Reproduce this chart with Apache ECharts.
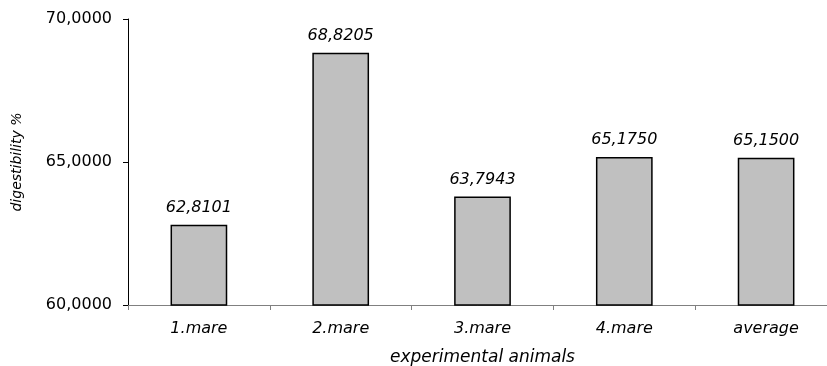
<!DOCTYPE html>
<html>
<head>
<meta charset="utf-8">
<script src="https://cdn.jsdelivr.net/npm/echarts@6/dist/echarts.min.js"></script>
<style>html,body{margin:0;padding:0;background:#fff;}#c{width:827px;height:366px;}</style>
</head>
<body>
<div id="c"></div>
<script>
var categories = ['1.mare', '2.mare', '3.mare', '4.mare', 'average'];
var values = [62.8101, 68.8205, 63.7943, 65.1750, 65.1500];
var yTicks = [60, 65, 70];

var chart = echarts.init(document.getElementById('c'), null, {renderer: 'canvas'});
var fontFam = '"DejaVu Sans", "Liberation Sans", Arial, sans-serif';
function fmt(v) { return v.toFixed(4).replace('.', ','); }
chart.setOption({
  animation: false,
  backgroundColor: '#ffffff',
  grid: {left: 128, right: -10, top: 19, bottom: 61, containLabel: false, outerBoundsMode: 'none'},
  xAxis: {
    type: 'category',
    data: categories,
    name: 'experimental animals',
    nameLocation: 'middle',
    nameGap: 44,
    nameTextStyle: {fontFamily: fontFam, fontSize: 17, fontStyle: 'italic', color: '#000'},
    axisLine: {lineStyle: {color: '#808080', width: 1}},
    axisTick: {show: true, length: 5, lineStyle: {color: '#808080'}},
    axisLabel: {fontFamily: fontFam, fontSize: 16, fontStyle: 'italic', color: '#000', margin: 16}
  },
  yAxis: {
    type: 'value',
    min: yTicks[0],
    max: yTicks[yTicks.length - 1],
    interval: 5,
    name: 'digestibility %',
    nameLocation: 'middle',
    nameGap: 104,
    nameTextStyle: {fontFamily: fontFam, fontSize: 14, fontStyle: 'italic', color: '#000'},
    axisLine: {show: true, lineStyle: {color: '#000', width: 1}},
    axisTick: {show: true, length: 5, lineStyle: {color: '#000'}},
    splitLine: {show: false},
    axisLabel: {fontFamily: fontFam, fontSize: 16, color: '#000', margin: 16, formatter: function (v) { return fmt(v); }}
  },
  series: [{
    type: 'bar',
    data: values,
    barWidth: '40%',
    itemStyle: {color: '#c0c0c0', borderColor: '#000', borderWidth: 1.5},
    label: {
      show: true,
      position: 'top',
      distance: 9,
      fontFamily: fontFam,
      fontSize: 16,
      fontStyle: 'italic',
      color: '#000',
      formatter: function (p) { return fmt(p.value); }
    }
  }]
});
</script>
</body>
</html>
